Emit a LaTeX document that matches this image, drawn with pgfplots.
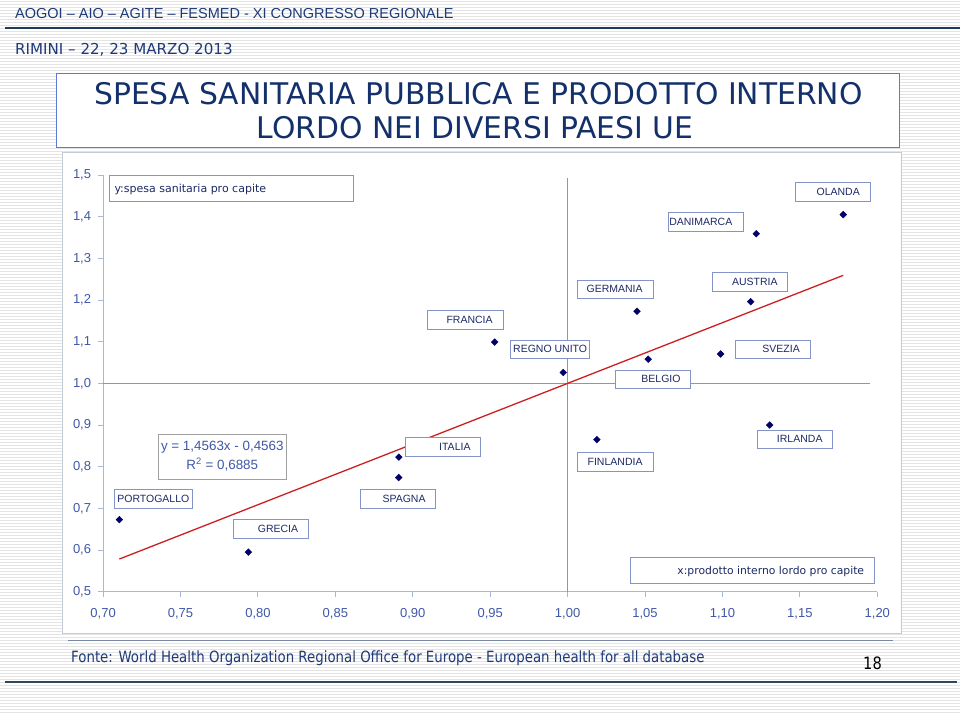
\documentclass[border=0pt]{standalone}
\usepackage{fontspec}
\setmainfont{Liberation Sans}
\newfontfamily\verd{DejaVu Sans}
\newfontfamily\tah[FakeStretch=0.86]{DejaVu Sans}
\usepackage{pgfplots}
\pgfplotsset{compat=1.18}

\definecolor{hdr}{HTML}{1F3A78}
\definecolor{hdrline}{HTML}{1F3A5A}
\definecolor{titc}{HTML}{13306A}
\definecolor{titbox}{HTML}{5B7BD0}
\definecolor{chartbox}{HTML}{C4CAD6}
\definecolor{axc}{HTML}{A9B6E2}
\definecolor{crossc}{HTML}{7F95DA}
\definecolor{tickc}{HTML}{4058A8}
\definecolor{mk}{HTML}{000066}
\definecolor{trend}{HTML}{CC2020}
\definecolor{lblbox}{HTML}{8494C8}
\definecolor{lbltxt}{HTML}{1C2A66}
\definecolor{eqbox}{HTML}{A0A0A0}
\definecolor{stripe}{HTML}{E4E4E4}
\definecolor{footl}{HTML}{2E4656}
\definecolor{footthin}{HTML}{7A88A4}

\pgfplotstableread{
x y
0.7105 0.673
0.7938 0.595
0.8909 0.774
0.8910 0.823
0.9529 1.099
0.9972 1.026
1.0189 0.865
1.0448 1.173
1.0520 1.058
1.0988 1.0705
1.1182 1.196
1.1218 1.359
1.1305 0.900
1.1780 1.405
}\paesi

\newcommand\lblfont{\fontsize{10.5bp}{12bp}\selectfont}
\newcommand\lbox[6]{%
  \draw[lblbox, fill=white, line width=0.9bp] (#1,#2) rectangle (#3,#4);
  \node[anchor=east, inner sep=0pt, text=lbltxt, font=\lblfont] at ({#3-#6},{(#2+#4)/2}) {#5};}

\begin{document}
\begin{tikzpicture}
\begin{scope}[x=1bp,y=-1bp]
  \path[use as bounding box] (0,0) rectangle (960,713);
  \fill[white] (0,0) rectangle (960,713);
  \foreach \i in {0,...,237} {\draw[stripe, line width=1bp] (0,{\i*3+1.5}) -- (960,{\i*3+1.5});}
  % header
  \node[anchor=base west, inner sep=0pt, text=hdr, font=\fontsize{14.5bp}{16bp}\selectfont] at (15,18.3) {AOGOI – AIO – AGITE – FESMED - XI CONGRESSO REGIONALE};
  \draw[hdrline, line width=1.8bp] (5,28.3) -- (960,28.3);
  \node[anchor=base west, inner sep=0pt, text=hdr, font=\verd\fontsize{15.1bp}{17bp}\selectfont] at (15,54.3) {RIMINI – 22, 23 MARZO 2013};
  % title
  \draw[titbox, fill=white, line width=1bp] (56.7,73.3) rectangle (899.3,147.7);
  \node[anchor=base, inner sep=0pt, text=titc, font=\verd\fontsize{29.8bp}{32bp}\selectfont] at (478.4,104.3) {SPESA SANITARIA PUBBLICA E PRODOTTO INTERNO};
  \node[anchor=base, inner sep=0pt, text=titc, font=\verd\fontsize{29.8bp}{32bp}\selectfont] at (475,138.3) {LORDO NEI DIVERSI PAESI UE};
  % chart area
  \draw[chartbox, fill=white, line width=1bp] (62.5,152.5) rectangle (901,633.5);
  % footer
  \draw[footthin, line width=0.9bp] (68.3,640) -- (892.7,640);
  \node[anchor=base west, inner sep=0pt, text=hdr, font=\tah\fontsize{15.5bp}{17bp}\selectfont] at (71,662.3) {Fonte: World Health Organization Regional Office for Europe - European health for all database};
  \node[anchor=base west, inner sep=0pt, text=black, font=\tah\fontsize{17bp}{19bp}\selectfont] at (863,669.3) {18};
  \draw[footl, line width=2.2bp] (5,681.7) -- (957,681.7);
\end{scope}

\begin{axis}[
  at={(103.1bp,-591.7bp)}, anchor=south west,
  scale only axis, width=774.2bp, height=416.7bp,
  xmin=0.70, xmax=1.20, ymin=0.5, ymax=1.5,
  axis x line*=bottom, axis y line*=left,
  x axis line style={-}, y axis line style={-},
  axis line style={axc, line width=1bp},
  tick style={axc, line width=1bp},
  tick align=outside, major tick length=5bp,
  xtick={0.70,0.75,0.80,0.85,0.90,0.95,1.00,1.05,1.10,1.15,1.20},
  ytick={0.5,0.6,0.7,0.8,0.9,1.0,1.1,1.2,1.3,1.4,1.5},
  /pgf/number format/use comma,
  /pgf/number format/fixed,
  /pgf/number format/fixed zerofill,
  /pgf/number format/assume math mode=true,
  xticklabel style={/pgf/number format/precision=2, yshift=-8.5bp},
  yticklabel style={/pgf/number format/precision=1, xshift=-3.5bp},
  ticklabel style={text=tickc, font=\fontsize{13bp}{15bp}\selectfont},
  clip=false,
]
\addplot[crossc, line width=1.3bp, no marks] coordinates {(1.0,0.5) (1.0,1.494)};
\addplot[crossc, line width=1.3bp, no marks] coordinates {(0.70,1.0) (1.195,1.0)};
\addplot[trend, line width=1.3bp, no marks] coordinates {(0.7105,0.5784) (1.178,1.2592)};
\addplot[only marks, mark=square*, mark size=2.4bp, mark options={rotate=45, fill=mk, draw=mk}] table[x=x, y=y] {\paesi};
\end{axis}

\begin{scope}[x=1bp,y=-1bp]
  % axis titles
  \draw[lblbox, fill=white, line width=0.9bp] (109.3,175) rectangle (353.3,201.7);
  \node[anchor=base west, inner sep=0pt, text=lbltxt, font=\verd\fontsize{11bp}{13bp}\selectfont] at (114.3,192) {y:spesa sanitaria pro capite};
  \draw[lblbox, fill=white, line width=0.9bp] (630.3,557.3) rectangle (874.3,583.3);
  \node[anchor=base east, inner sep=0pt, text=lbltxt, font=\verd\fontsize{10.8bp}{13bp}\selectfont] at (864.3,574.3) {x:prodotto interno lordo pro capite};
  % equation
  \draw[eqbox, fill=white, line width=0.9bp] (158.3,434.3) rectangle (286.3,479.3);
  \node[anchor=base, inner sep=0pt, text=tickc, font=\fontsize{13.4bp}{15bp}\selectfont] at (222.3,450.6) {y = 1,4563x - 0,4563};
  \node[anchor=base, inner sep=0pt, text=tickc, font=\fontsize{13.4bp}{15bp}\selectfont] at (222.3,469.9) {R\textsuperscript{2} = 0,6885};
  % country labels
  \lbox{427.7}{310}{503.3}{329}{FRANCIA}{10.5}
  \lbox{510.7}{340}{589.3}{358.7}{REGNO UNITO}{2}
  \lbox{577.7}{280}{653.3}{298.7}{GERMANIA}{10.5}
  \lbox{615.3}{370}{690.3}{388.7}{BELGIO}{9.6}
  \lbox{668}{212.3}{743}{231}{DANIMARCA}{10.5}
  \lbox{795.3}{182.3}{870.3}{201.7}{OLANDA}{10.3}
  \lbox{712.7}{272.7}{787.7}{291.3}{AUSTRIA}{10}
  \lbox{735.3}{340}{810.3}{358.7}{SVEZIA}{10.3}
  \lbox{577.7}{452.3}{653.3}{471}{FINLANDIA}{10.6}
  \lbox{757.7}{430}{832.7}{448.7}{IRLANDA}{10}
  \lbox{405.7}{437.7}{480.3}{456.3}{ITALIA}{9.6}
  \lbox{360.3}{489.3}{435.3}{508.3}{SPAGNA}{9.6}
  \lbox{114.3}{489.3}{192}{508.3}{PORTOGALLO}{2.5}
  \lbox{233}{519.7}{308}{538.3}{GRECIA}{9.7}
\end{scope}
\end{tikzpicture}
\end{document}
